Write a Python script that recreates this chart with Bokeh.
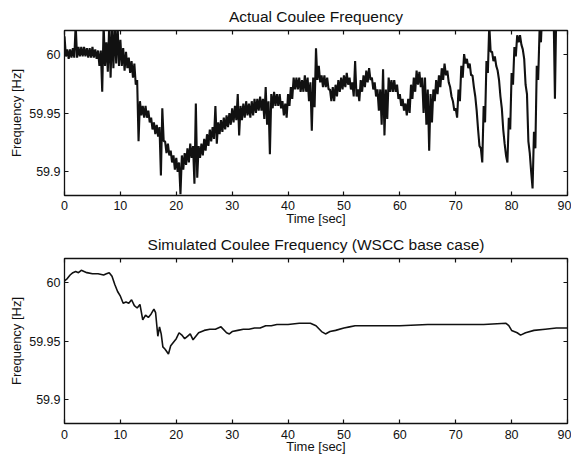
import numpy as np
from bokeh.plotting import figure
from bokeh.layouts import column
from bokeh.models import FixedTicker, LinearAxis, Range1d, CustomJSTickFormatter
from bokeh.embed import file_html
from bokeh.resources import INLINE

# ---------------- data ----------------
actual_dt = 0.25  # sampling step of the measured trace [sec]
# measured Coulee frequency [Hz], one value every 0.25 s from t = 0 to 90 s
actual_freq = [
    # 0 - 5 s
    60.015, 59.998, 60.004, 59.996, 60.004, 59.997, 60.005, 59.997,
    60.025, 59.997, 60.006, 59.998, 60.006, 59.998, 60.006, 59.998,
    60.005, 59.997, 60.005, 59.997,
    # 5 - 10 s
    60.006, 59.997, 60.004, 59.996, 60.003, 59.990, 60.003, 59.968,
    60.025, 59.990, 60.010, 59.985, 60.025, 59.980, 60.025, 59.988,
    60.025, 59.992, 60.025, 59.990,
    # 10 - 15 s
    60.012, 59.990, 60.005, 59.986, 60.002, 59.988, 59.997, 59.984,
    59.994, 59.980, 59.992, 59.974, 59.978, 59.926, 59.960, 59.948,
    59.956, 59.946, 59.956, 59.946,
    # 15 - 20 s
    59.952, 59.942, 59.946, 59.936, 59.942, 59.932, 59.940, 59.930,
    59.938, 59.897, 59.954, 59.926, 59.926, 59.916, 59.924, 59.914,
    59.918, 59.908, 59.914, 59.902,
    # 20 - 25 s
    59.912, 59.900, 59.908, 59.881, 59.914, 59.902, 59.916, 59.906,
    59.920, 59.908, 59.924, 59.912, 59.922, 59.890, 59.958, 59.895,
    59.922, 59.912, 59.924, 59.914,
    # 25 - 30 s
    59.928, 59.918, 59.932, 59.922, 59.936, 59.926, 59.938, 59.928,
    59.956, 59.924, 59.942, 59.932, 59.944, 59.934, 59.946, 59.936,
    59.948, 59.938, 59.950, 59.940,
    # 30 - 35 s
    59.954, 59.942, 59.956, 59.944, 59.966, 59.931, 59.956, 59.944,
    59.958, 59.946, 59.960, 59.948, 59.958, 59.946, 59.960, 59.948,
    59.962, 59.950, 59.962, 59.952,
    # 35 - 40 s
    59.964, 59.952, 59.962, 59.945, 59.972, 59.940, 59.960, 59.915,
    59.966, 59.954, 59.968, 59.956, 59.966, 59.956, 59.966, 59.954,
    59.960, 59.948, 59.958, 59.946,
    # 40 - 45 s
    59.966, 59.956, 59.972, 59.962, 59.980, 59.970, 59.980, 59.970,
    59.980, 59.968, 59.978, 59.968, 59.982, 59.968, 59.980, 59.960,
    59.976, 59.935, 59.980, 59.955,
    # 45 - 50 s
    60.005, 59.978, 59.990, 59.976, 59.982, 59.972, 59.982, 59.972,
    59.980, 59.970, 59.970, 59.960, 59.972, 59.960, 59.974, 59.964,
    59.978, 59.968, 59.980, 59.970,
    # 50 - 55 s
    59.982, 59.972, 59.984, 59.974, 59.980, 59.970, 59.976, 59.964,
    59.994, 59.964, 59.970, 59.960, 59.978, 59.968, 59.982, 59.972,
    59.986, 59.976, 59.988, 59.978,
    # 55 - 60 s
    59.980, 59.970, 59.976, 59.964, 59.970, 59.952, 59.970, 59.940,
    59.987, 59.931, 59.970, 59.945, 59.980, 59.968, 59.978, 59.968,
    59.978, 59.968, 59.974, 59.962,
    # 60 - 65 s
    59.966, 59.956, 59.962, 59.952, 59.958, 59.948, 59.962, 59.950,
    59.974, 59.962, 59.980, 59.968, 59.986, 59.974, 59.985, 59.972,
    59.980, 59.950, 59.980, 59.940,
    # 65 - 70 s
    59.970, 59.918, 59.966, 59.942, 59.970, 59.960, 59.978, 59.966,
    59.982, 59.972, 59.988, 59.978, 59.992, 59.982, 59.986, 59.976,
    59.972, 59.964, 59.960, 59.952,
    # 70 - 75 s
    59.954, 59.946, 59.970, 59.960, 59.990, 59.980, 60.000, 59.992,
    59.996, 59.988, 59.992, 59.982, 59.982, 59.972, 59.964, 59.952,
    59.936, 59.922, 59.920, 59.908,
    # 75 - 80 s
    59.956, 59.942, 59.994, 59.984, 60.025, 60.002, 60.002, 59.994,
    59.998, 59.990, 59.986, 59.978, 59.964, 59.954, 59.936, 59.924,
    59.914, 59.908, 59.946, 59.936,
    # 80 - 85 s
    59.984, 59.974, 60.006, 59.998, 60.016, 60.010, 60.016, 60.008,
    60.004, 59.996, 59.974, 59.966, 59.926, 59.916, 59.900, 59.886,
    59.934, 59.920, 59.990, 59.978,
    # 85 - 90 s
    60.020, 60.010, 60.040, 60.035, 60.040, 60.040, 60.040, 60.040,
    60.040, 60.040, 60.040, 59.962, 60.040, 60.040, 60.040, 60.040,
    60.040, 60.040, 60.040, 60.040,
    60.040,
]
actual_time = np.arange(len(actual_freq)) * actual_dt

# simulated Coulee frequency [Hz] (WSCC base case)
sim_time = [0, 0.5, 1, 1.5, 2, 2.5, 3, 3.5, 4, 5, 6, 7, 7.5, 8, 8.5, 9, 9.5,
            10, 10.5, 11, 11.5, 12, 12.5, 13, 13.5, 14, 14.5, 15, 15.5, 16,
            16.3, 16.7, 17, 17.3, 17.6, 18, 18.6, 19, 19.5, 20, 20.5, 21,
            21.5, 22, 22.5, 23, 23.5, 24, 25, 26, 27, 28, 29, 29.5, 30, 31,
            32, 33, 34, 35, 36, 37, 38, 40, 42, 44, 45, 46, 46.7, 47.5, 48.5,
            50, 51, 52, 55, 60, 65, 70, 75, 79, 79.5, 80, 81, 81.6, 82.5, 84,
            86, 88, 90]
sim_freq = [60.001, 60.003, 60.006, 60.008, 60.009, 60.008, 60.010, 60.009,
            60.008, 60.007, 60.007, 60.006, 60.007, 60.008, 60.005, 59.998,
            59.992, 59.988, 59.982, 59.983, 59.982, 59.985, 59.980, 59.978,
            59.981, 59.968, 59.972, 59.970, 59.973, 59.977, 59.974, 59.954,
            59.962, 59.956, 59.945, 59.943, 59.939, 59.946, 59.949, 59.952,
            59.957, 59.955, 59.952, 59.954, 59.956, 59.951, 59.954, 59.957,
            59.959, 59.960, 59.960, 59.962, 59.957, 59.956, 59.958, 59.959,
            59.960, 59.960, 59.961, 59.961, 59.963, 59.963, 59.964, 59.964,
            59.965, 59.965, 59.963, 59.958, 59.956, 59.958, 59.959, 59.961,
            59.962, 59.963, 59.963, 59.963, 59.964, 59.964, 59.964, 59.965,
            59.963, 59.959, 59.957, 59.955, 59.957, 59.959, 59.960, 59.961,
            59.961]

x_ticks = [0, 10, 20, 30, 40, 50, 60, 70, 80, 90]
y_ticks = [59.9, 59.95, 60.0]
y_tick_labels = {59.9: "59.9", 59.95: "59.95", 60.0: "60"}

titles = ["Actual Coulee Frequency", "Simulated Coulee Frequency (WSCC base case)"]
x_label = "Time [sec]"
y_label = "Frequency [Hz]"

FONT = "Liberation Sans"
INK = "#111111"


def make_panel(title, t, f, top_border, bottom_border, lw, x_standoff, xl_standoff):
    p = figure(width=571, height=top_border + 165 + bottom_border,
               frame_width=503, frame_height=165,
               x_range=Range1d(0, 90), y_range=Range1d(59.88, 60.02),
               output_backend="svg", toolbar_location=None,
               min_border_left=64, min_border_right=4,
               min_border_top=top_border, min_border_bottom=bottom_border,
               background_fill_color="white", border_fill_color="white")
    p.title.text = title
    p.title.align = "center"
    p.title.text_font = FONT
    p.title.text_font_size = "15.5px"
    p.title.text_font_style = "normal"
    p.title.text_color = INK
    p.title.standoff = 11
    p.grid.visible = False
    p.outline_line_color = INK
    p.outline_line_width = 1.3

    p.line(t, f, line_color=INK, line_width=lw)

    for ax in p.xaxis:
        ax.ticker = FixedTicker(ticks=x_ticks)
        ax.axis_label = x_label
    for ax in p.yaxis:
        ax.ticker = FixedTicker(ticks=y_ticks)
        ax.major_label_overrides = y_tick_labels
        ax.axis_label = y_label
    for ax in list(p.xaxis) + list(p.yaxis):
        ax.major_tick_in = 4
        ax.major_tick_out = 0
        ax.minor_tick_line_color = None
        ax.major_label_text_font = FONT
        ax.major_label_text_font_size = "12.5px"
        ax.major_label_text_color = INK
        ax.axis_label_text_font = FONT
        ax.axis_label_text_font_size = "13px"
        ax.axis_label_text_font_style = "normal"
        ax.axis_label_text_color = INK
        ax.axis_line_color = INK
        ax.major_tick_line_color = INK
        ax.major_tick_line_width = 1.2
    for ax in p.xaxis:
        ax.major_label_standoff = x_standoff
        ax.axis_label_standoff = xl_standoff
    for ax in p.yaxis:
        ax.major_label_standoff = 4
        ax.axis_label_standoff = 2

    blank = CustomJSTickFormatter(code="return ''")
    right = LinearAxis(ticker=FixedTicker(ticks=y_ticks), formatter=blank,
                       major_tick_in=4, major_tick_out=0, major_tick_line_width=1.2,
                       minor_tick_line_color=None, axis_line_color=INK,
                       major_tick_line_color=INK, major_label_standoff=0)
    top = LinearAxis(ticker=FixedTicker(ticks=x_ticks), formatter=blank,
                     major_tick_in=4, major_tick_out=0, major_tick_line_width=1.2,
                     minor_tick_line_color=None, axis_line_color=INK,
                     major_tick_line_color=INK, major_label_standoff=0)
    p.add_layout(right, "right")
    p.add_layout(top, "above")
    return p


p1 = make_panel(titles[0], actual_time, actual_freq, 30, 33, 2.1, 5, -2)
p2 = make_panel(titles[1], sim_time, sim_freq, 29, 33, 1.6, 6, -3)

layout = column(p1, p2, spacing=0)
open("out.html", "w").write(file_html(layout, INLINE))
